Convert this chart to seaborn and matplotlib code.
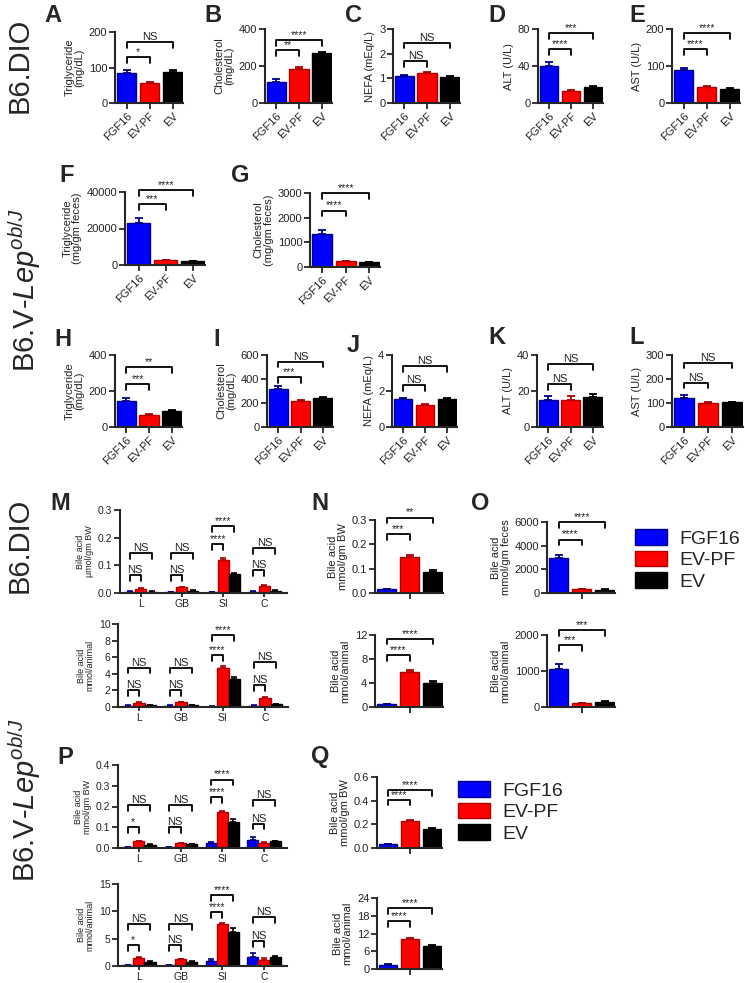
import numpy as np
import pandas as pd
import seaborn as sns
import matplotlib.pyplot as plt
from matplotlib.patches import Patch
from matplotlib.container import BarContainer

groups = ['FGF16', 'EV-PF', 'EV']
organs = ['L', 'GB', 'SI', 'C']

# B6.DIO serum (A-E)
a_tg, a_tg_sem, a_sig = [85, 55, 86], [7, 5, 8], ['*', 'NS']
b_chol, b_chol_sem, b_sig = [115, 183, 270], [15, 10, 8], ['**', '****']
c_nefa, c_nefa_sem, c_sig = [1.08, 1.22, 1.05], [0.06, 0.05, 0.03], ['NS', 'NS']
d_alt, d_alt_sem, d_sig = [40, 13, 17], [4, 1, 1], ['****', '***']
e_ast, e_ast_sem, e_sig = [88, 42, 38], [6, 3, 2], ['****', '****']

# B6.V-Lep ob/J feces (F-G)
f_tg, f_tg_sem, f_sig = [23000, 2500, 2000], [2500, 500, 300], ['***', '****']
g_chol, g_chol_sem, g_sig = [1320, 230, 200], [180, 30, 20], ['****', '****']

# B6.V-Lep ob/J serum (H-L)
h_tg, h_tg_sem, h_sig = [145, 65, 90], [15, 5, 5], ['***', '**']
i_chol, i_chol_sem, i_sig = [315, 215, 240], [25, 12, 10], ['***', 'NS']
j_nefa, j_nefa_sem, j_sig = [1.55, 1.25, 1.55], [0.07, 0.05, 0.05], ['NS', 'NS']
k_alt, k_alt_sem, k_sig = [15, 15, 16.5], [2, 2, 2], ['NS', 'NS']
l_ast, l_ast_sem, l_sig = [122, 100, 103], [10, 4, 3], ['NS', 'NS']

# bile acid per organ, rows = FGF16, EV-PF, EV ; cols = L, GB, SI, C
m_bw = [[0.005, 0.003, 0.003, 0.005], [0.013, 0.02, 0.12, 0.025], [0.005, 0.008, 0.07, 0.008]]
m_bw_sem = [[0.002, 0.001, 0.001, 0.001], [0.004, 0.003, 0.008, 0.003], [0.001, 0.002, 0.004, 0.002]]
m_bw_sig = [['NS', 'NS'], ['NS', 'NS'], ['****', '****'], ['NS', 'NS']]
m_an = [[0.15, 0.15, 0.05, 0.15], [0.45, 0.55, 4.7, 1.1], [0.2, 0.25, 3.4, 0.35]]
m_an_sem = [[0.05, 0.05, 0.02, 0.05], [0.1, 0.1, 0.2, 0.15], [0.05, 0.05, 0.25, 0.05]]
m_an_sig = [['NS', 'NS'], ['NS', 'NS'], ['****', '****'], ['NS', 'NS']]
p_bw = [[0.003, 0.003, 0.025, 0.04], [0.033, 0.023, 0.175, 0.025], [0.015, 0.017, 0.125, 0.033]]
p_bw_sem = [[0.001, 0.001, 0.003, 0.015], [0.003, 0.003, 0.004, 0.006], [0.002, 0.002, 0.013, 0.003]]
p_bw_sig = [['*', 'NS'], ['NS', 'NS'], ['****', '****'], ['NS', 'NS']]
p_an = [[0.15, 0.1, 1.0, 1.6], [1.45, 1.2, 7.6, 1.05], [0.8, 0.75, 6.2, 1.6]]
p_an_sem = [[0.05, 0.05, 0.2, 0.7], [0.15, 0.15, 0.2, 0.5], [0.1, 0.1, 0.8, 0.2]]
p_an_sig = [['*', 'NS'], ['NS', 'NS'], ['****', '****'], ['NS', 'NS']]

# total bile acid (N, O, Q)
n_bw, n_bw_sem, n_bw_sig = [0.015, 0.148, 0.085], [0.003, 0.01, 0.01], ['***', '**']
n_an, n_an_sem, n_an_sig = [0.45, 5.9, 4.0], [0.1, 0.2, 0.35], ['****', '****']
o_fec, o_fec_sem, o_fec_sig = [2950, 300, 280], [250, 60, 20], ['****', '****']
o_an, o_an_sem, o_an_sig = [1050, 100, 150], [150, 10, 15], ['***', '***']
q_bw, q_bw_sem, q_bw_sig = [0.03, 0.23, 0.16], [0.005, 0.01, 0.005], ['****', '****']
q_an, q_an_sem, q_an_sig = [1.2, 10.2, 7.9], [0.4, 0.4, 0.3], ['****', '****']

colors = ['#0000FF', '#FF0000', '#000000']
edges = ['#00008B', '#B00000', '#000000']
TXT = '#222222'

sns.set_style('ticks')
plt.rcParams['font.family'] = ['Liberation Sans', 'DejaVu Sans']
plt.rcParams['mathtext.fontset'] = 'custom'
plt.rcParams['mathtext.rm'] = 'Liberation Sans'
plt.rcParams['mathtext.it'] = 'Liberation Sans:italic'

W, H = 745, 983
fig = plt.figure(figsize=(W / 100, H / 100), dpi=100)


def add_ax(x0, y0, x1, y1):
    return fig.add_axes([x0 / W, 1 - y1 / H, (x1 - x0) / W, (y1 - y0) / H])


def style(ax, ymax, yticks, ylabel, ylab_fs, tick_fs):
    ax.set_ylim(0, ymax)
    ax.set_yticks(yticks)
    sns.despine(ax=ax)
    for s in ['left', 'bottom']:
        ax.spines[s].set_linewidth(1.5)
    ax.tick_params(direction='out', length=4, width=1.3, labelsize=tick_fs,
                   labelcolor=TXT, pad=1.5)
    ax.set_ylabel(ylabel, fontsize=ylab_fs, color=TXT, linespacing=1.0, labelpad=3)
    ax.set_xlabel('')


def bracket(ax, x0, x1, y, text, drop, fs=8):
    ax.plot([x0, x0, x1, x1], [y - drop, y, y, y - drop], color='black',
            lw=1.3, clip_on=False)
    ax.text((x0 + x1) / 2, y, text, ha='center', va='bottom',
            fontsize=fs if text == 'NS' else fs - 0.5, color=TXT, clip_on=False)


def bar3(ax, vals, sems, sigs, brk, ymax, yticks, ylabel, labels=True, ylab_fs=8):
    sns.barplot(x=groups, y=vals, hue=groups, palette=colors, width=0.85,
                saturation=1, errorbar=None, legend=False, ax=ax)
    for i, bar in enumerate(ax.patches):
        bar.set_edgecolor(edges[i])
        bar.set_linewidth(1.0)
    for i, (v, s) in enumerate(zip(vals, sems)):
        ax.errorbar(i, v, yerr=[[0], [s]], fmt='none', ecolor=edges[i],
                    elinewidth=1.3, capsize=3, capthick=1.3)
    ax.set_xlim(-0.5, 2.45)
    style(ax, ymax, yticks, ylabel, ylab_fs, 8)
    if labels:
        ax.set_xticks([0, 1, 2])
        ax.set_xticklabels(groups, rotation=45, ha='right', rotation_mode='anchor')
    else:
        ax.set_xticks([1])
        ax.set_xticklabels([])
    d = 0.08 * ymax
    bracket(ax, 0, 1, brk[0], sigs[0], d)
    bracket(ax, 0, 2, brk[1], sigs[1], d)


def bar_org(ax, vals, sems, sigs, brk, ymax, yticks, ylabel):
    df = pd.DataFrame({'organ': np.tile(organs, 3),
                       'group': np.repeat(groups, 4),
                       'value': np.ravel(vals)})
    sns.barplot(data=df, x='organ', y='value', hue='group', palette=colors,
                width=0.8, saturation=1, errorbar=None, legend=False, ax=ax)
    conts = [c for c in ax.containers if isinstance(c, BarContainer)]
    for j, cont in enumerate(conts):
        for k, bar in enumerate(cont.patches):
            bar.set_edgecolor(edges[j])
            bar.set_linewidth(1.0)
            ax.errorbar(bar.get_x() + bar.get_width() / 2, bar.get_height(),
                        yerr=[[0], [sems[j][k]]], fmt='none', ecolor=edges[j],
                        elinewidth=1.2, capsize=2, capthick=1.2)
    ax.set_xlim(-0.5, 3.55)
    style(ax, ymax, yticks, ylabel, 6.5, 7.5)
    ax.tick_params(axis='x', length=3, pad=1)
    ax.set_xticks(range(4))
    ax.set_xticklabels(organs)
    w = 0.8 / 3
    d = 0.07 * ymax
    for k in range(4):
        bracket(ax, k - w, k, brk[k][0], sigs[k][0], d)
        bracket(ax, k - w, k + w, brk[k][1], sigs[k][1], d)


# row A-E
bar3(add_ax(115, 32, 183, 103), a_tg, a_tg_sem, a_sig, [130, 172], 200, [0, 100, 200],
     'Triglyceride\n(mg/dL)')
bar3(add_ax(265, 29, 332, 103), b_chol, b_chol_sem, b_sig, [287, 342], 400, [0, 200, 400],
     'Cholesterol\n(mg/dL)')
bar3(add_ax(393, 29, 460, 103), c_nefa, c_nefa_sem, c_sig, [1.7, 2.45], 3, [0, 1, 2, 3],
     'NEFA (mEq/L)')
bar3(add_ax(538, 29, 603, 103), d_alt, d_alt_sem, d_sig, [58, 75.6], 80, [0, 40, 80],
     'ALT (U/L)')
bar3(add_ax(672, 29, 740, 103), e_ast, e_ast_sem, e_sig, [145, 189], 200, [0, 100, 200],
     'AST (U/L)')

# row F-G
bar3(add_ax(125, 192, 205, 265), f_tg, f_tg_sem, f_sig, [33600, 40900], 40000,
     [0, 20000, 40000], 'Triglyceride\n(mg/gm feces)')
bar3(add_ax(310, 193, 380, 267), g_chol, g_chol_sem, g_sig, [2290, 3000], 3000,
     [0, 1000, 2000, 3000], 'Cholesterol\n(mg/gm feces)')

# row H-L
bar3(add_ax(115, 355, 182, 427), h_tg, h_tg_sem, h_sig, [240, 332], 400, [0, 200, 400],
     'Triglyceride\n(mg/dL)')
bar3(add_ax(267, 355, 333, 427), i_chol, i_chol_sem, i_sig, [415, 545], 600,
     [0, 200, 400, 600], 'Cholesterol\n(mg/dL)')
bar3(add_ax(392, 355, 457, 427), j_nefa, j_nefa_sem, j_sig, [2.34, 3.39], 4, [0, 2, 4],
     'NEFA (mEq/L)')
bar3(add_ax(537, 355, 603, 427), k_alt, k_alt_sem, k_sig, [24, 35], 40, [0, 20, 40],
     'ALT (U/L)')
bar3(add_ax(672, 355, 743, 427), l_ast, l_ast_sem, l_sig, [185, 268], 300,
     [0, 100, 200, 300], 'AST (U/L)')

# M / P organ panels
bar_org(add_ax(120, 510, 287, 593), m_bw, m_bw_sem, m_bw_sig,
        [[0.066, 0.144], [0.066, 0.144], [0.176, 0.242], [0.084, 0.162]],
        0.3, [0.0, 0.1, 0.2, 0.3], 'Bile acid\nμmol/gm BW')
bar_org(add_ax(118, 624, 288, 707), m_an, m_an_sem, m_an_sig,
        [[2.0, 4.75], [2.0, 4.75], [6.25, 8.7], [2.6, 5.45]],
        10, [0, 2, 4, 6, 8, 10], 'Bile acid\nmmol/animal')
bar_org(add_ax(118, 765, 287, 848), p_bw, p_bw_sem, p_bw_sig,
        [[0.10, 0.206], [0.10, 0.206], [0.247, 0.33], [0.118, 0.23]],
        0.4, [0.0, 0.1, 0.2, 0.3, 0.4], 'Bile acid\nmmol/gm BW')
bar_org(add_ax(118, 884, 287, 966), p_an, p_an_sem, p_an_sig,
        [[3.8, 7.7], [3.8, 7.7], [9.8, 13.0], [4.5, 8.9]],
        15, [0, 5, 10, 15], 'Bile acid\nmmol/animal')

# N, O, Q total bile acid
bar3(add_ax(375, 520, 443, 593), n_bw, n_bw_sem, n_bw_sig, [0.241, 0.31], 0.3,
     [0.0, 0.1, 0.2, 0.3], 'Bile acid\nmmol/gm BW', labels=False)
bar3(add_ax(375, 635, 443, 707), n_an, n_an_sem, n_an_sig, [8.65, 11.4], 12,
     [0, 4, 8, 12], 'Bile acid\nmmol/animal', labels=False)
bar3(add_ax(547, 522, 615, 593), o_fec, o_fec_sem, o_fec_sig, [4520, 6000], 6000,
     [0, 2000, 4000, 6000], 'Bile acid\nmmol/gm feces', labels=False)
bar3(add_ax(547, 635, 615, 707), o_an, o_an_sem, o_an_sig, [1714, 2143], 2000,
     [0, 1000, 2000], 'Bile acid\nmmol/animal', labels=False)
bar3(add_ax(377, 777, 442, 848), q_bw, q_bw_sem, q_bw_sig, [0.408, 0.487], 0.6,
     [0.0, 0.2, 0.4, 0.6], 'Bile acid\nmmol/gm BW', labels=False)
bar3(add_ax(377, 898, 442, 969), q_an, q_an_sem, q_an_sig, [16.1, 20.6], 24,
     [0, 6, 12, 18, 24], 'Bile acid\nmmol/animal', labels=False)

# legends
handles = [Patch(facecolor=c, edgecolor=e) for c, e in zip(colors, edges)]
for lx, ly in [(635, 560), (458, 812)]:
    fig.legend(handles, groups, loc='center left', bbox_to_anchor=(lx / W, 1 - ly / H),
               frameon=False, fontsize=14, handlelength=1.65, handleheight=0.85,
               handletextpad=0.65, labelspacing=0.15, borderpad=0, borderaxespad=0)

# panel letters
letters = {'A': (53, 15), 'B': (213, 15), 'C': (353, 15), 'D': (497, 15), 'E': (637, 15),
           'F': (67, 175), 'G': (240, 175),
           'H': (63, 340), 'I': (217, 340), 'J': (353, 345), 'K': (497, 337), 'L': (637, 337),
           'M': (60, 503), 'N': (320, 503), 'O': (480, 503), 'P': (65, 757), 'Q': (320, 757)}
for t, (x, y) in letters.items():
    fig.text(x / W, 1 - y / H, t, fontsize=17, fontweight='bold', ha='center', va='center')

# row labels
lep = r'B6.V-$\mathit{Lep}^{\mathit{ob/J}}$'
for t, x, y in [('B6.DIO', 20, 65), (lep, 25, 290), ('B6.DIO', 20, 545), (lep, 25, 800)]:
    fig.text(x / W, 1 - y / H, t, fontsize=21, rotation=90, ha='center', va='center')

fig.savefig('out.png', dpi=100)
